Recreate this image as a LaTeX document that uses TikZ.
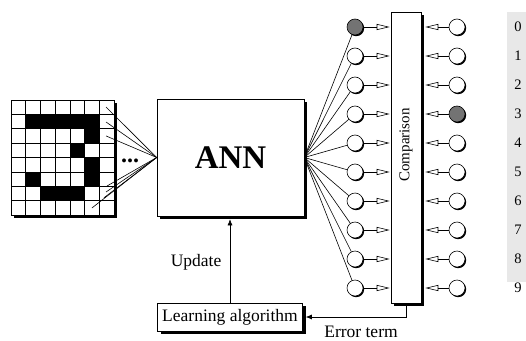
\documentclass[tikz,border=0pt]{standalone}
\usepackage{fontspec}
\setmainfont{Liberation Serif}
\usetikzlibrary{arrows.meta,shadows}

\tikzset{
  box/.style={draw,fill=white,inner sep=0pt,drop shadow={shadow xshift=3pt,shadow yshift=-3pt,fill=black,opacity=1}},
  unit/.style={circle,draw,fill=white,minimum size=16pt,inner sep=0pt,drop shadow={shadow xshift=1.2pt,shadow yshift=-1.2pt,fill=black,opacity=1}},
  feed/.style={-{Triangle[open,length=13pt,width=6pt]},shorten >=1pt},
  lbl/.style={font=\fontsize{17.5}{20}\selectfont},
}

\begin{document}
\begin{tikzpicture}[x=1pt,y=-1pt,line width=0.6pt]
\useasboundingbox (0,0) rectangle (526,340);
% input pattern
\begin{scope}[shift={(11pt,-100pt)},x=14.714pt,y=-14.375pt]
\fill[black] (0.2,0.2) rectangle (7.2,8.2);
\fill[white] (0,0) rectangle (7,8);
\foreach \c/\r in {1/1,2/1,3/1,4/1,5/1,5/2,4/3,5/4,1/5,5/5,2/6,3/6,4/6}
  \fill (\c,\r) rectangle ++(1,1);
\foreach \i in {0,...,7} \draw (\i,0)--(\i,8);
\foreach \j in {0,...,8} \draw (0,\j)--(7,\j);
\coordinate (in1) at (6.46,0.49);
\coordinate (in2) at (6.46,1.53);
\coordinate (in3) at (6.46,2.5);
\coordinate (in4) at (6.53,5.98);
\coordinate (in5) at (6.46,6.4);
\coordinate (in6) at (6.32,6.8);
\coordinate (in7) at (5.5,7.51);
\end{scope}
\node[font=\bfseries\fontsize{24}{26}\selectfont,inner sep=0pt] (dots) at (130,161) {...};
\node[box,minimum width=147pt,minimum height=117pt,font=\bfseries\fontsize{33}{36}\selectfont] (ann) at (230.5,157.5) {ANN};
\foreach \k in {1,...,7} \draw (in\k)--(ann.west);
% comparison
\node[box,minimum width=30pt,minimum height=291pt] (cmp) at (406,157.5) {};
\node[rotate=90,font=\fontsize{15}{18}\selectfont] (cmplbl) at (406,145) {Comparison};
\foreach \i/\a/\b in {0/black!55/white,1/white/white,2/white/white,3/white/black!55,4/white/white,5/white/white,6/white/white,7/white/white,8/white/white,9/white/white}{
  \node[unit,fill=\a] (o\i) at (355,{27+29*\i}) {};
  \node[unit,fill=\b] (t\i) at (457,{27+29*\i}) {};
  \draw (ann.east)--(o\i);
  \draw[feed] (o\i)--(o\i -| cmp.west);
  \draw[feed] (t\i)--([xshift=3pt]t\i -| cmp.east);
}
% learning
\node[box,minimum width=145pt,minimum height=28pt,lbl] (learn) at (230,317) {Learning algorithm};
\draw[-{Latex[length=6pt,width=5pt]}] (learn.north)--([yshift=-3pt]learn.north |- ann.south);
\node[lbl,anchor=east] (upd) at (225,262) {Update};
\draw[-{Latex[length=6pt,width=5pt]}] (cmp.south) |- ([xshift=3pt]learn.east);
\node[lbl] (err) at (361,332) {Error term};
% target labels
\node[fill=black!9,minimum width=19.5pt,minimum height=270pt,inner sep=0pt] (keys) at (516.75,147) {};
\foreach \i in {0,...,9}
  \node[font=\fontsize{14.5}{17}\selectfont] (d\i) at (518,{27+29*\i}) {\i};
\end{tikzpicture}
\end{document}
